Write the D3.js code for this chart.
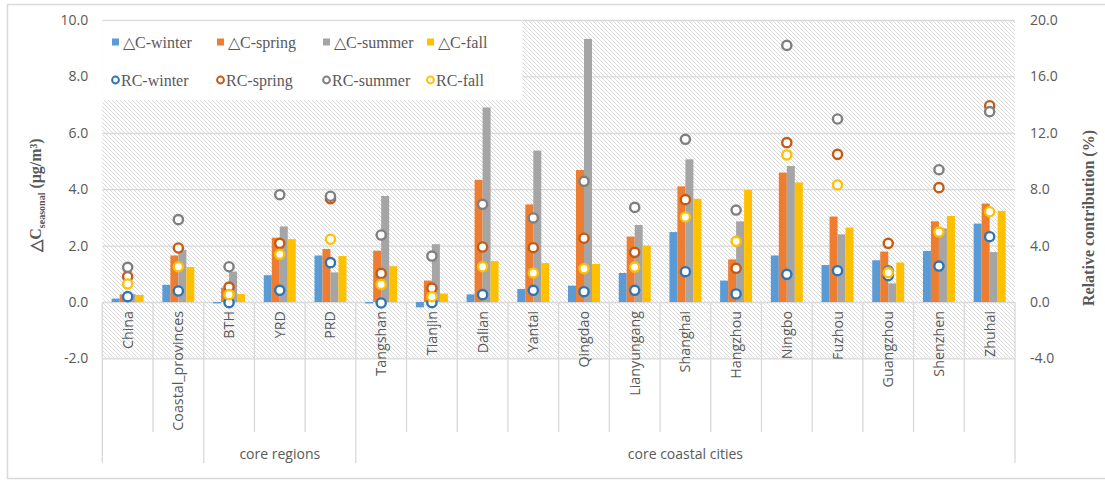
<!DOCTYPE html>
<html>
<head>
<meta charset="utf-8">
<script src="https://cdn.jsdelivr.net/npm/d3@7"></script>
<style>
  html, body { margin: 0; padding: 0; background: #fff; }
  svg { display: block; }
</style>
</head>
<body>
<svg id="chart" width="1105" height="483"></svg>
<script>
// Categories (first level) and their grouping (second level)
const categories = ["China", "Coastal_provinces", "BTH", "YRD", "PRD", "Tangshan", "Tianjin",
  "Dalian", "Yantai", "Qingdao", "Lianyungang", "Shanghai", "Hangzhou", "Ningbo", "Fuzhou",
  "Guangzhou", "Shenzhen", "Zhuhai"];
const groupNames = ["", "core regions", "core coastal cities"];
const groupStart = [0, 2, 5];
const groupEnd = [1, 4, 17];

// Seasonal concentration change, µg/m³ (left axis)
const dcWinter = [0.12, 0.61, -0.05, 0.95, 1.65, -0.05, -0.19, 0.27, 0.46, 0.58, 1.03, 2.48, 0.76, 1.65, 1.31, 1.48, 1.81, 2.78];
const dcSpring = [0.27, 1.65, 0.51, 2.28, 1.88, 1.82, 0.76, 4.33, 3.46, 4.68, 2.32, 4.10, 1.51, 4.59, 3.03, 1.79, 2.86, 3.49];
const dcSummer = [0.28, 1.84, 1.08, 2.68, 1.05, 3.76, 2.05, 6.90, 5.37, 9.33, 2.73, 5.06, 2.86, 4.82, 2.40, 0.66, 2.61, 1.77];
const dcFall   = [0.25, 1.24, 0.28, 2.23, 1.63, 1.27, 0.30, 1.45, 1.38, 1.35, 2.00, 3.66, 3.97, 4.24, 2.64, 1.40, 3.05, 3.23];

// Relative contribution, % (right axis)
const rcWinter = [0.38, 0.78, -0.05, 0.83, 2.79, -0.07, -0.05, 0.52, 0.83, 0.73, 0.83, 2.15, 0.57, 1.96, 2.22, 1.87, 2.55, 4.63];
const rcSpring = [1.80, 3.83, 1.06, 4.16, 7.33, 2.03, 0.99, 3.90, 3.85, 4.52, 3.52, 7.26, 2.39, 11.30, 10.47, 4.16, 8.11, 13.92];
const rcSummer = [2.46, 5.84, 2.50, 7.61, 7.50, 4.75, 3.26, 6.93, 5.96, 8.56, 6.71, 11.54, 6.52, 18.20, 12.98, 2.22, 9.38, 13.50];
const rcFall   = [1.28, 2.50, 0.52, 3.38, 4.45, 1.25, 0.38, 2.50, 2.06, 2.36, 2.48, 6.03, 4.30, 10.43, 8.30, 2.08, 4.96, 6.40];

const leftTicks = [-2, 0, 2, 4, 6, 8, 10];
const rightTicks = [-4, 0, 4, 8, 12, 16, 20];

const barSeries = [
  { name: "\u25B3C-winter", values: dcWinter, color: "#5b9bd5" },
  { name: "\u25B3C-spring", values: dcSpring, color: "#ed7d31" },
  { name: "\u25B3C-summer", values: dcSummer, color: "#a5a5a5" },
  { name: "\u25B3C-fall", values: dcFall, color: "#ffc000" }
];
const dotSeries = [
  { name: "RC-winter", values: rcWinter, color: "#2e75b6" },
  { name: "RC-spring", values: rcSpring, color: "#c55a11" },
  { name: "RC-summer", values: rcSummer, color: "#7f7f7f" },
  { name: "RC-fall", values: rcFall, color: "#ffc000" }
];

const svg = d3.select("#chart");
const plot = { left: 102.3, right: 1015, top: 20, bottom: 358.4 };
const tableBottom = 463, catCellBottom = 432;
const textColor = "#595959";
const lineColor = "#d9d9d9";
const fmt = d => d.toFixed(1);

// outer chart frame
svg.append("rect").attr("x", 7.5).attr("y", 4.5).attr("width", 1110).attr("height", 474)
  .attr("fill", "#fff").attr("stroke", lineColor).attr("stroke-width", 1.5);

const x = d3.scaleBand().domain(categories).range([plot.left, plot.right]).padding(0);
const xInner = d3.scaleBand().domain(d3.range(4)).range([0, x.bandwidth()])
  .paddingInner(0).paddingOuter(1.17);
const yL = d3.scaleLinear().domain([-2, 10]).range([plot.bottom, plot.top]);
const yR = d3.scaleLinear().domain([-4, 20]).range([plot.bottom, plot.top]);

// hatched plot background
const defs = svg.append("defs");
const pat = defs.append("pattern").attr("id", "hatch").attr("patternUnits", "userSpaceOnUse")
  .attr("width", 4).attr("height", 4);
pat.append("rect").attr("width", 4).attr("height", 4).attr("fill", "#fff");
pat.append("path").attr("d", "M-1,-1 L5,5 M3,-1 L5,1 M-1,3 L1,5")
  .attr("stroke", "#dadada").attr("stroke-width", 1);
svg.append("rect").attr("x", plot.left).attr("y", plot.top)
  .attr("width", plot.right - plot.left).attr("height", plot.bottom - plot.top)
  .attr("fill", "url(#hatch)");

// gridlines + left tick labels
const gAxisL = svg.append("g").attr("transform", `translate(${plot.left},0)`)
  .call(d3.axisLeft(yL).tickValues(leftTicks).tickFormat(fmt)
    .tickSize(-(plot.right - plot.left)).tickPadding(14));
gAxisL.select(".domain").remove();
gAxisL.selectAll(".tick line").attr("stroke", lineColor).attr("stroke-width", 1.3);
gAxisL.selectAll(".tick text").attr("fill", textColor)
  .style("font-family", "'Open Sans', sans-serif").style("font-size", "14px");

// right tick labels
const gAxisR = svg.append("g").attr("transform", `translate(${plot.right},0)`)
  .call(d3.axisRight(yR).tickValues(rightTicks).tickFormat(fmt)
    .tickSize(0).tickPadding(15));
gAxisR.select(".domain").remove();
gAxisR.selectAll(".tick text").attr("fill", textColor)
  .style("font-family", "'Open Sans', sans-serif").style("font-size", "14px");

// legend box
svg.append("rect").attr("x", plot.left).attr("y", 21).attr("width", 420).attr("height", 79)
  .attr("fill", "#fff");

// category table lines
const tbl = svg.append("g").attr("stroke", lineColor).attr("stroke-width", 1.3);
const groupEdges = new Set([0, ...groupStart, categories.length]);
d3.range(categories.length + 1).forEach(i => {
  const xx = i < categories.length ? x(categories[i]) : plot.right;
  tbl.append("line").attr("x1", xx).attr("x2", xx).attr("y1", yL(0))
    .attr("y2", groupEdges.has(i) ? tableBottom : catCellBottom);
});

// bars
barSeries.forEach((s, k) => {
  svg.append("g").selectAll("rect").data(s.values).join("rect")
    .attr("x", (d, i) => x(categories[i]) + xInner(k))
    .attr("width", xInner.bandwidth())
    .attr("y", d => Math.min(yL(d), yL(0)))
    .attr("height", d => Math.abs(yL(d) - yL(0)))
    .attr("fill", s.color);
});

// relative-contribution markers
dotSeries.forEach(s => {
  svg.append("g").selectAll("circle").data(s.values).join("circle")
    .attr("cx", (d, i) => x(categories[i]) + x.bandwidth() / 2)
    .attr("cy", d => yR(d))
    .attr("r", 4.6)
    .attr("fill", "#fff").attr("stroke", s.color).attr("stroke-width", 2.4);
});

// category labels (rotated)
svg.append("g").selectAll("text").data(categories).join("text")
  .attr("transform", d => `translate(${x(d) + x.bandwidth() / 2},311) rotate(-90)`)
  .attr("text-anchor", "end").attr("dy", "0.35em")
  .attr("fill", textColor)
  .style("font-family", "'Open Sans', sans-serif").style("font-size", "14.3px")
  .text(d => d);

// group labels
groupNames.forEach((g, j) => {
  const x0 = x(categories[groupStart[j]]);
  const x1 = x(categories[groupEnd[j]]) + x.bandwidth();
  svg.append("text").attr("x", (x0 + x1) / 2).attr("y", 454).attr("dy", "0.35em")
    .attr("text-anchor", "middle").attr("fill", textColor)
    .style("font-family", "'Open Sans', sans-serif").style("font-size", "14px")
    .text(g);
});

// legend entries
const legendX = [112, 217, 323, 427];
const legendFont = "'Liberation Serif', 'Times New Roman', serif";
barSeries.forEach((s, k) => {
  svg.append("rect").attr("x", legendX[k]).attr("y", 38.5).attr("width", 7).attr("height", 7)
    .attr("fill", s.color);
  svg.append("text").attr("x", legendX[k] + 11).attr("y", 42).attr("dy", "0.35em")
    .attr("fill", textColor).style("font-family", legendFont).style("font-size", "16px")
    .text(s.name);
});
dotSeries.forEach((s, k) => {
  svg.append("circle").attr("cx", legendX[k] + 3.5).attr("cy", 80).attr("r", 3.4)
    .attr("fill", "#fff").attr("stroke", s.color).attr("stroke-width", 2);
  svg.append("text").attr("x", legendX[k] + 9).attr("y", 80).attr("dy", "0.35em")
    .attr("fill", textColor).style("font-family", legendFont).style("font-size", "16px")
    .text(s.name);
});

// axis titles
const tl = svg.append("text").attr("transform", "translate(35,195) rotate(-90)")
  .attr("text-anchor", "middle").attr("dy", "0.35em")
  .attr("fill", textColor).style("font-family", legendFont).style("font-size", "16px")
  .style("font-weight", "bold");
tl.append("tspan").text("\u25B3C");
tl.append("tspan").attr("dy", "4").style("font-size", "10px").text("seasonal");
tl.append("tspan").attr("dy", "-4").text(" (\u03BCg/m\u00B3)");

svg.append("text").attr("transform", "translate(1088,218) rotate(-90)")
  .attr("text-anchor", "middle").attr("dy", "0.35em")
  .attr("fill", textColor).style("font-family", legendFont).style("font-size", "16px")
  .style("font-weight", "bold")
  .text("Relative contribution (%)");
</script>
</body>
</html>
